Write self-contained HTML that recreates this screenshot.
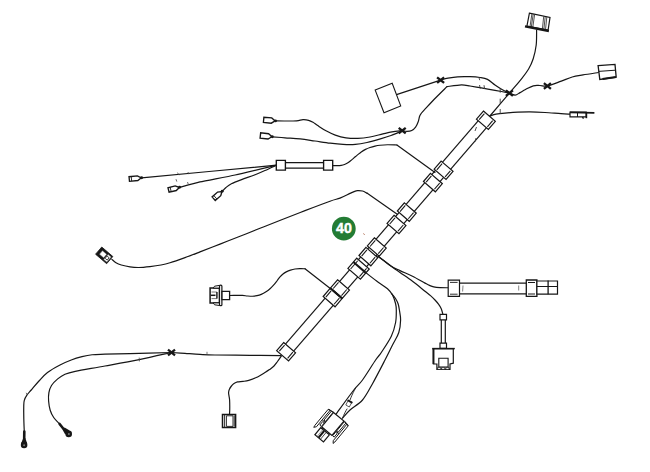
<!DOCTYPE html>
<html><head><meta charset="utf-8"><title>40</title>
<style>html,body{margin:0;padding:0;background:#fff;}body{width:650px;height:472px;overflow:hidden;}svg{display:block;}</style>
</head><body>
<svg width="650" height="472" viewBox="0 0 650 472">
<rect width="650" height="472" fill="#fff"/>
<path d="M536.60 30.00 C536.53 32.50 536.77 40.22 536.20 45.00 C535.63 49.78 534.47 54.70 533.20 58.70 C531.93 62.70 530.55 65.65 528.60 69.00 C526.65 72.35 524.70 74.78 521.50 78.80 C518.30 82.82 514.73 86.82 509.40 93.10 C504.07 99.38 492.82 112.60 489.50 116.50" fill="none" stroke="#161616" stroke-width="1.2" stroke-linecap="round" stroke-linejoin="round"/>
<path d="M509.40 93.10 C510.37 93.43 513.43 95.18 515.20 95.10 C516.97 95.02 518.28 93.53 520.00 92.60 C521.72 91.67 523.28 90.63 525.50 89.50 C527.72 88.37 530.88 86.47 533.30 85.80 C535.72 85.13 537.65 85.47 540.00 85.50 C542.35 85.53 543.85 86.73 547.40 86.00 C550.95 85.27 557.17 82.60 561.30 81.10 C565.43 79.60 568.58 78.03 572.20 77.00 C575.82 75.97 578.65 75.65 583.00 74.90 C587.35 74.15 595.75 72.90 598.30 72.50" fill="none" stroke="#161616" stroke-width="1.2" stroke-linecap="round" stroke-linejoin="round"/>
<path d="M490.00 116.00 C491.00 115.70 493.50 114.68 496.00 114.20 C498.50 113.72 501.33 113.43 505.00 113.10 C508.67 112.77 513.83 112.40 518.00 112.20 C522.17 112.00 525.50 111.85 530.00 111.90 C534.50 111.95 539.83 112.20 545.00 112.50 C550.17 112.80 556.83 113.43 561.00 113.70 C565.17 113.97 568.50 114.03 570.00 114.10" fill="none" stroke="#161616" stroke-width="1.2" stroke-linecap="round" stroke-linejoin="round"/>
<path d="M396.50 94.60 C403.85 92.18 433.25 82.52 440.60 80.10" fill="none" stroke="#161616" stroke-width="1.2" stroke-linecap="round" stroke-linejoin="round"/>
<path d="M440.60 80.10 C441.83 79.78 445.15 78.75 448.00 78.20 C450.85 77.65 454.03 77.05 457.70 76.80 C461.37 76.55 466.28 76.58 470.00 76.70 C473.72 76.82 477.08 77.05 480.00 77.50 C482.92 77.95 485.00 78.15 487.50 79.40 C490.00 80.65 492.58 83.32 495.00 85.00 C497.42 86.68 499.60 88.15 502.00 89.50 C504.40 90.85 508.17 92.50 509.40 93.10" fill="none" stroke="#161616" stroke-width="1.2" stroke-linecap="round" stroke-linejoin="round"/>
<path d="M509.40 93.10 C507.48 92.73 498.92 91.02 495.00 90.30 C491.08 89.58 483.33 88.27 480.00 87.70 C476.67 87.13 472.47 86.39 470.00 86.00 C467.53 85.61 464.57 84.72 461.50 84.80 C458.43 84.88 448.93 86.36 447.00 86.60" fill="none" stroke="#161616" stroke-width="1.2" stroke-linecap="round" stroke-linejoin="round"/>
<path d="M447.00 86.60 C445.17 88.42 439.63 93.78 436.00 97.50 C432.37 101.22 427.62 106.32 425.20 108.90 C422.78 111.48 422.42 111.82 421.50 113.00 C420.58 114.18 420.27 114.50 419.70 116.00 C419.13 117.50 418.78 120.15 418.10 122.00 C417.42 123.85 416.66 125.68 415.60 127.10 C414.54 128.52 413.18 129.80 411.75 130.50 C410.32 131.20 408.59 131.28 407.00 131.30 C405.41 131.32 403.00 130.72 402.20 130.60" fill="none" stroke="#161616" stroke-width="1.2" stroke-linecap="round" stroke-linejoin="round"/>
<path d="M402.00 130.60 C400.33 130.82 395.18 131.35 392.00 131.90 C388.82 132.45 386.57 133.05 382.90 133.90 C379.23 134.75 374.18 136.25 370.00 137.00 C365.82 137.75 361.80 138.27 357.80 138.40 C353.80 138.53 349.75 138.35 346.00 137.80 C342.25 137.25 338.63 136.27 335.30 135.10 C331.97 133.93 328.93 132.38 326.00 130.80 C323.07 129.22 319.87 127.02 317.70 125.60 C315.53 124.18 314.52 123.18 313.00 122.30 C311.48 121.42 310.27 120.73 308.60 120.30 C306.93 119.87 305.00 119.62 303.00 119.70 C301.00 119.78 299.60 120.58 296.60 120.80 C293.60 121.02 288.52 120.98 285.00 121.00 C281.48 121.02 277.08 120.92 275.50 120.90" fill="none" stroke="#161616" stroke-width="1.2" stroke-linecap="round" stroke-linejoin="round"/>
<path d="M402.00 131.00 C400.17 131.75 394.60 134.18 391.00 135.50 C387.40 136.82 384.40 137.73 380.40 138.90 C376.40 140.07 371.18 141.58 367.00 142.50 C362.82 143.42 359.30 144.08 355.30 144.40 C351.30 144.72 347.18 144.60 343.00 144.40 C338.82 144.20 334.87 143.77 330.20 143.20 C325.53 142.63 320.00 141.72 315.00 141.00 C310.00 140.28 305.20 139.43 300.20 138.90 C295.20 138.37 289.65 138.15 285.00 137.80 C280.35 137.45 274.42 136.97 272.30 136.80" fill="none" stroke="#161616" stroke-width="1.2" stroke-linecap="round" stroke-linejoin="round"/>
<path d="M332.70 165.60 C333.42 165.60 335.57 165.65 337.00 165.60 C338.43 165.55 340.00 165.48 341.25 165.30 C342.50 165.12 343.46 164.87 344.50 164.50 C345.54 164.13 346.48 163.72 347.50 163.10 C348.52 162.48 349.56 161.63 350.60 160.80 C351.64 159.97 352.60 159.08 353.75 158.10 C354.90 157.12 356.25 155.93 357.50 154.90 C358.75 153.87 359.92 152.82 361.25 151.90 C362.58 150.98 364.04 150.13 365.50 149.40 C366.96 148.67 368.42 148.05 370.00 147.50 C371.58 146.95 373.33 146.47 375.00 146.10 C376.67 145.72 377.92 145.47 380.00 145.25 C382.08 145.03 384.68 144.79 387.50 144.75 C390.32 144.71 395.33 144.96 396.90 145.00" fill="none" stroke="#161616" stroke-width="1.2" stroke-linecap="round" stroke-linejoin="round"/>
<path d="M396.90 145.00 C403.25 149.57 428.65 167.83 435.00 172.40" fill="none" stroke="#161616" stroke-width="1.2" stroke-linecap="round" stroke-linejoin="round"/>
<path d="M276.50 165.20 C254.02 167.30 164.08 175.70 141.60 177.80" fill="none" stroke="#161616" stroke-width="1.2" stroke-linecap="round" stroke-linejoin="round"/>
<path d="M276.50 165.20 C272.36 166.18 242.75 173.33 235.10 175.00 C227.45 176.67 205.55 180.67 200.00 181.90 C194.45 183.13 181.64 186.76 179.60 187.30" fill="none" stroke="#161616" stroke-width="1.2" stroke-linecap="round" stroke-linejoin="round"/>
<path d="M276.50 165.20 C274.58 166.08 268.67 168.87 265.00 170.50 C261.33 172.13 258.40 173.48 254.50 175.00 C250.60 176.52 245.45 178.13 241.60 179.60 C237.75 181.07 234.00 182.48 231.40 183.80 C228.80 185.12 227.53 186.25 226.00 187.50 C224.47 188.75 222.83 190.67 222.20 191.30" fill="none" stroke="#161616" stroke-width="1.2" stroke-linecap="round" stroke-linejoin="round"/>
<path d="M111.90 259.40 C112.58 259.97 114.43 261.87 116.00 262.80 C117.57 263.73 118.97 264.32 121.30 265.00 C123.63 265.68 127.08 266.48 130.00 266.90 C132.92 267.32 135.47 267.55 138.80 267.50 C142.13 267.45 146.30 267.02 150.00 266.60 C153.70 266.18 157.67 265.63 161.00 265.00 C164.33 264.37 166.00 264.03 170.00 262.80 C174.00 261.57 180.00 259.42 185.00 257.60 C190.00 255.78 194.17 254.15 200.00 251.90 C205.83 249.65 213.33 246.71 220.00 244.10 C226.67 241.49 233.33 238.88 240.00 236.25 C246.67 233.62 253.17 231.01 260.00 228.30 C266.83 225.59 273.50 222.95 281.00 220.00 C288.50 217.05 296.83 213.73 305.00 210.60 C313.17 207.47 324.17 203.28 330.00 201.20 C335.83 199.12 336.67 199.40 340.00 198.10 C343.33 196.80 347.67 194.48 350.00 193.40 C352.33 192.32 352.75 192.07 354.00 191.60 C355.25 191.13 356.08 190.70 357.50 190.60 C358.92 190.50 360.93 190.58 362.50 191.00 C364.07 191.42 366.17 192.75 366.90 193.10" fill="none" stroke="#161616" stroke-width="1.2" stroke-linecap="round" stroke-linejoin="round"/>
<path d="M366.90 193.10 C372.02 196.65 392.48 210.85 397.60 214.40" fill="none" stroke="#161616" stroke-width="1.2" stroke-linecap="round" stroke-linejoin="round"/>
<path d="M229.60 295.50 C230.67 295.48 233.85 295.42 236.00 295.40 C238.15 295.38 240.58 295.30 242.50 295.40 C244.42 295.50 245.83 295.86 247.50 296.00 C249.17 296.14 250.92 296.30 252.50 296.25 C254.08 296.20 255.54 296.01 257.00 295.70 C258.46 295.39 259.75 295.05 261.25 294.40 C262.75 293.75 264.54 292.74 266.00 291.80 C267.46 290.86 268.78 289.82 270.00 288.75 C271.22 287.68 272.26 286.54 273.30 285.40 C274.34 284.26 275.43 282.93 276.25 281.90 C277.07 280.87 277.57 280.03 278.20 279.20 C278.82 278.37 279.20 277.77 280.00 276.90 C280.80 276.03 281.96 274.83 283.00 274.00 C284.04 273.17 285.00 272.55 286.25 271.90 C287.50 271.25 289.04 270.58 290.50 270.10 C291.96 269.62 293.42 269.23 295.00 269.00 C296.58 268.77 298.33 268.74 300.00 268.70 C301.67 268.66 304.17 268.74 305.00 268.75" fill="none" stroke="#161616" stroke-width="1.2" stroke-linecap="round" stroke-linejoin="round"/>
<path d="M305.00 268.75 C309.27 272.07 326.33 285.38 330.60 288.70" fill="none" stroke="#161616" stroke-width="1.2" stroke-linecap="round" stroke-linejoin="round"/>
<path d="M281.00 355.70 C275.83 355.63 261.00 355.42 250.00 355.30 C239.00 355.18 223.33 355.15 215.00 355.00 C206.67 354.85 205.00 354.67 200.00 354.40 C195.00 354.13 189.75 353.72 185.00 353.40 C180.25 353.08 173.75 352.65 171.50 352.50" fill="none" stroke="#161616" stroke-width="1.2" stroke-linecap="round" stroke-linejoin="round"/>
<path d="M171.50 352.50 C164.58 352.68 141.08 353.32 130.00 353.60 C118.92 353.88 111.32 354.01 105.00 354.20 C98.68 354.39 95.93 354.33 92.10 354.75 C88.27 355.17 85.47 355.82 82.00 356.70 C78.53 357.57 74.92 358.62 71.25 360.00 C67.58 361.38 63.96 362.92 60.00 365.00 C56.04 367.08 51.04 369.79 47.50 372.50 C43.96 375.21 41.46 378.33 38.75 381.25 C36.04 384.17 33.23 387.68 31.25 390.00 C29.27 392.32 28.06 393.48 26.90 395.20 C25.74 396.92 24.82 398.50 24.30 400.30 C23.78 402.10 23.83 402.93 23.75 406.00 C23.67 409.07 23.71 414.42 23.80 418.75 C23.89 423.08 24.22 429.79 24.30 432.00" fill="none" stroke="#161616" stroke-width="1.2" stroke-linecap="round" stroke-linejoin="round"/>
<path d="M171.50 352.50 C166.12 353.68 150.28 357.35 139.20 359.60 C128.12 361.85 115.67 364.05 105.00 366.00 C94.33 367.95 81.87 369.93 75.20 371.30 C68.53 372.67 67.92 372.93 65.00 374.20 C62.08 375.47 59.95 377.02 57.70 378.90 C55.45 380.78 52.97 383.20 51.50 385.50 C50.03 387.80 49.38 390.12 48.90 392.70 C48.42 395.28 48.38 398.08 48.60 401.00 C48.82 403.92 49.35 407.45 50.20 410.20 C51.05 412.95 52.17 415.25 53.70 417.50 C55.23 419.75 58.45 422.67 59.40 423.70" fill="none" stroke="#161616" stroke-width="1.2" stroke-linecap="round" stroke-linejoin="round"/>
<path d="M281.30 356.20 C280.67 357.08 278.76 359.82 277.50 361.50 C276.24 363.18 275.08 364.90 273.75 366.25 C272.42 367.60 270.96 368.56 269.50 369.60 C268.04 370.64 267.21 371.18 265.00 372.50 C262.79 373.82 258.96 376.18 256.25 377.50 C253.54 378.82 250.96 379.75 248.75 380.40 C246.54 381.05 244.88 381.15 243.00 381.40 C241.12 381.65 239.00 381.53 237.50 381.90 C236.00 382.27 235.04 382.88 234.00 383.60 C232.96 384.33 232.02 385.30 231.25 386.25 C230.48 387.20 229.84 388.26 229.40 389.30 C228.96 390.34 228.67 391.38 228.60 392.50 C228.53 393.62 228.83 394.75 229.00 396.00 C229.17 397.25 229.47 397.88 229.60 400.00 C229.72 402.12 229.77 406.35 229.75 408.75 C229.73 411.15 229.54 413.46 229.50 414.40" fill="none" stroke="#161616" stroke-width="1.2" stroke-linecap="round" stroke-linejoin="round"/>
<path d="M378.00 256.20 C379.00 256.97 381.79 259.12 384.00 260.80 C386.21 262.48 388.58 264.62 391.25 266.25 C393.92 267.88 396.46 268.93 400.00 270.60 C403.54 272.27 408.33 274.17 412.50 276.25 C416.67 278.33 422.17 281.58 425.00 283.10 C427.83 284.62 428.04 284.77 429.50 285.40 C430.96 286.03 432.00 286.53 433.75 286.90 C435.50 287.27 437.59 287.46 440.00 287.60 C442.41 287.74 446.83 287.73 448.20 287.75" fill="none" stroke="#161616" stroke-width="1.2" stroke-linecap="round" stroke-linejoin="round"/>
<path d="M378.00 256.20 C379.00 256.97 381.79 259.12 384.00 260.80 C386.21 262.48 388.58 264.30 391.25 266.25 C393.92 268.20 396.46 270.00 400.00 272.50 C403.54 275.00 408.33 278.12 412.50 281.25 C416.67 284.38 422.00 288.86 425.00 291.25 C428.00 293.64 428.83 294.14 430.50 295.60 C432.17 297.06 433.67 298.57 435.00 300.00 C436.33 301.43 437.46 302.74 438.50 304.20 C439.54 305.66 440.52 307.05 441.25 308.75 C441.98 310.45 442.62 313.46 442.90 314.40" fill="none" stroke="#161616" stroke-width="1.2" stroke-linecap="round" stroke-linejoin="round"/>
<path d="M365.60 272.50 C367.38 273.88 372.65 278.09 376.30 280.80 C379.95 283.51 384.80 286.38 387.50 288.75 C390.20 291.12 391.15 292.50 392.50 295.00 C393.85 297.50 394.97 301.25 395.60 303.75 C396.23 306.25 396.30 306.88 396.30 310.00 C396.30 313.12 396.43 318.12 395.60 322.50 C394.77 326.88 393.68 331.30 391.30 336.30 C388.92 341.30 383.92 348.55 381.30 352.50 C378.68 356.45 378.73 355.42 375.60 360.00 C372.47 364.58 366.13 375.00 362.50 380.00 C358.87 385.00 358.17 384.38 353.80 390.00 C349.43 395.62 339.22 409.75 336.30 413.70" fill="none" stroke="#161616" stroke-width="1.2" stroke-linecap="round" stroke-linejoin="round"/>
<path d="M391.50 293.50 C392.17 294.33 394.40 296.79 395.50 298.50 C396.60 300.21 397.45 301.83 398.10 303.75 C398.75 305.67 398.98 307.29 399.40 310.00 C399.82 312.71 400.70 316.25 400.60 320.00 C400.50 323.75 400.15 328.33 398.80 332.50 C397.45 336.67 394.80 340.42 392.50 345.00 C390.20 349.58 388.33 353.55 385.00 360.00 C381.67 366.45 376.25 377.03 372.50 383.70 C368.75 390.37 366.25 395.62 362.50 400.00 C358.75 404.38 353.33 406.98 350.00 410.00 C346.67 413.02 343.75 416.75 342.50 418.10" fill="none" stroke="#161616" stroke-width="1.2" stroke-linecap="round" stroke-linejoin="round"/>
<path d="M355.50 388.20 C355.00 389.17 353.42 392.03 352.50 394.00 C351.58 395.97 350.42 399.00 350.00 400.00" fill="none" stroke="#161616" stroke-width="0.9" stroke-linecap="round" stroke-linejoin="round"/>
<path d="M347.00 409.00 C346.67 409.58 345.75 410.98 345.00 412.50 C344.25 414.02 342.92 417.17 342.50 418.10" fill="none" stroke="#161616" stroke-width="0.9" stroke-linecap="round" stroke-linejoin="round"/>
<path d="M348.30 400.20 L351.90 402.20 L349.30 407.00 L345.80 405.00 Z" fill="#fff" stroke="#161616" stroke-width="0.7" stroke-linejoin="miter"/>
<line x1="347.60" y1="400.30" x2="352.40" y2="402.90" stroke="#161616" stroke-width="1.8" stroke-linecap="butt"/>
<line x1="481.81" y1="116.67" x2="282.01" y2="348.17" stroke="#161616" stroke-width="1.2" stroke-linecap="butt"/>
<line x1="489.99" y1="123.73" x2="290.19" y2="355.23" stroke="#161616" stroke-width="1.2" stroke-linecap="butt"/>
<path d="M483.45 111.02 L495.34 121.28 L488.35 129.38 L476.46 119.12 Z" fill="#fff" stroke="#161616" stroke-width="1.2" stroke-linejoin="miter"/>
<line x1="484.42" y1="113.57" x2="479.13" y2="119.70" stroke="#161616" stroke-width="1.08" stroke-linecap="butt"/>
<line x1="492.67" y1="120.70" x2="487.38" y2="126.83" stroke="#161616" stroke-width="1.08" stroke-linecap="butt"/>
<path d="M441.15 161.12 L453.04 171.38 L446.05 179.48 L434.16 169.22 Z" fill="#fff" stroke="#161616" stroke-width="1.2" stroke-linejoin="miter"/>
<line x1="442.12" y1="163.67" x2="436.83" y2="169.80" stroke="#161616" stroke-width="1.08" stroke-linecap="butt"/>
<line x1="450.37" y1="170.80" x2="445.08" y2="176.93" stroke="#161616" stroke-width="1.08" stroke-linecap="butt"/>
<path d="M430.45 173.42 L442.34 183.68 L435.35 191.78 L423.46 181.52 Z" fill="#fff" stroke="#161616" stroke-width="1.2" stroke-linejoin="miter"/>
<line x1="431.42" y1="175.97" x2="426.13" y2="182.10" stroke="#161616" stroke-width="1.08" stroke-linecap="butt"/>
<line x1="439.67" y1="183.10" x2="434.38" y2="189.23" stroke="#161616" stroke-width="1.08" stroke-linecap="butt"/>
<path d="M404.35 202.92 L416.24 213.18 L409.25 221.28 L397.36 211.02 Z" fill="#fff" stroke="#161616" stroke-width="1.2" stroke-linejoin="miter"/>
<line x1="405.32" y1="205.47" x2="400.03" y2="211.60" stroke="#161616" stroke-width="1.08" stroke-linecap="butt"/>
<line x1="413.57" y1="212.60" x2="408.28" y2="218.73" stroke="#161616" stroke-width="1.08" stroke-linecap="butt"/>
<path d="M394.05 215.32 L405.94 225.58 L398.95 233.68 L387.06 223.42 Z" fill="#fff" stroke="#161616" stroke-width="1.2" stroke-linejoin="miter"/>
<line x1="395.02" y1="217.87" x2="389.73" y2="224.00" stroke="#161616" stroke-width="1.08" stroke-linecap="butt"/>
<line x1="403.27" y1="225.00" x2="397.98" y2="231.13" stroke="#161616" stroke-width="1.08" stroke-linecap="butt"/>
<path d="M374.35 237.82 L386.24 248.08 L379.25 256.18 L367.36 245.92 Z" fill="#fff" stroke="#161616" stroke-width="1.2" stroke-linejoin="miter"/>
<line x1="375.32" y1="240.37" x2="370.03" y2="246.50" stroke="#161616" stroke-width="1.08" stroke-linecap="butt"/>
<line x1="383.57" y1="247.50" x2="378.28" y2="253.63" stroke="#161616" stroke-width="1.08" stroke-linecap="butt"/>
<path d="M365.95 247.42 L377.84 257.68 L370.85 265.78 L358.96 255.52 Z" fill="#fff" stroke="#161616" stroke-width="1.2" stroke-linejoin="miter"/>
<line x1="366.92" y1="249.97" x2="361.63" y2="256.10" stroke="#161616" stroke-width="1.08" stroke-linecap="butt"/>
<line x1="375.17" y1="257.10" x2="369.88" y2="263.23" stroke="#161616" stroke-width="1.08" stroke-linecap="butt"/>
<path d="M356.77 258.20 L369.26 268.98 L360.43 279.20 L347.94 268.42 Z" fill="#fff" stroke="#161616" stroke-width="1.2" stroke-linejoin="miter"/>
<line x1="357.73" y1="260.75" x2="350.61" y2="269.00" stroke="#161616" stroke-width="1.08" stroke-linecap="butt"/>
<line x1="366.59" y1="268.40" x2="359.47" y2="276.65" stroke="#161616" stroke-width="1.08" stroke-linecap="butt"/>
<line x1="353.40" y1="262.10" x2="365.89" y2="272.88" stroke="#161616" stroke-width="2.0" stroke-linecap="butt"/>
<path d="M337.55 279.82 L349.44 290.08 L342.45 298.18 L330.56 287.92 Z" fill="#fff" stroke="#161616" stroke-width="1.2" stroke-linejoin="miter"/>
<line x1="338.52" y1="282.37" x2="333.23" y2="288.50" stroke="#161616" stroke-width="1.08" stroke-linecap="butt"/>
<line x1="346.77" y1="289.50" x2="341.48" y2="295.63" stroke="#161616" stroke-width="1.08" stroke-linecap="butt"/>
<path d="M330.15 288.42 L342.04 298.68 L335.05 306.78 L323.16 296.52 Z" fill="#fff" stroke="#161616" stroke-width="1.2" stroke-linejoin="miter"/>
<line x1="331.12" y1="290.97" x2="325.83" y2="297.10" stroke="#161616" stroke-width="1.08" stroke-linecap="butt"/>
<line x1="339.37" y1="298.10" x2="334.08" y2="304.23" stroke="#161616" stroke-width="1.08" stroke-linecap="butt"/>
<line x1="330.36" y1="288.17" x2="342.24" y2="298.43" stroke="#161616" stroke-width="2.0" stroke-linecap="butt"/>
<path d="M283.65 342.52 L295.54 352.78 L288.55 360.88 L276.66 350.62 Z" fill="#fff" stroke="#161616" stroke-width="1.2" stroke-linejoin="miter"/>
<line x1="284.62" y1="345.07" x2="279.33" y2="351.20" stroke="#161616" stroke-width="1.08" stroke-linecap="butt"/>
<line x1="292.87" y1="352.20" x2="287.58" y2="358.33" stroke="#161616" stroke-width="1.08" stroke-linecap="butt"/>
<path d="M529.40 13.10 L550.00 17.50 L548.10 30.00 L526.90 26.20 Z" fill="#fff" stroke="#161616" stroke-width="1.2" stroke-linejoin="miter"/>
<line x1="525.00" y1="26.40" x2="548.90" y2="31.00" stroke="#161616" stroke-width="2.3" stroke-linecap="butt"/>
<line x1="531.90" y1="14.00" x2="530.00" y2="26.60" stroke="#161616" stroke-width="0.75" stroke-linecap="butt"/>
<line x1="533.20" y1="14.30" x2="531.30" y2="26.90" stroke="#161616" stroke-width="0.75" stroke-linecap="butt"/>
<line x1="534.60" y1="14.60" x2="532.80" y2="27.20" stroke="#161616" stroke-width="0.75" stroke-linecap="butt"/>
<line x1="543.70" y1="16.50" x2="542.40" y2="28.90" stroke="#161616" stroke-width="0.75" stroke-linecap="butt"/>
<line x1="545.20" y1="16.80" x2="543.90" y2="29.20" stroke="#161616" stroke-width="0.75" stroke-linecap="butt"/>
<line x1="546.80" y1="17.10" x2="545.50" y2="29.50" stroke="#161616" stroke-width="0.75" stroke-linecap="butt"/>
<path d="M598.10 65.60 L615.00 64.40 L616.20 77.20 L599.80 79.40 Z" fill="#fff" stroke="#161616" stroke-width="1.3" stroke-linejoin="miter"/>
<line x1="598.50" y1="71.40" x2="615.50" y2="70.20" stroke="#161616" stroke-width="1.0" stroke-linecap="butt"/>
<line x1="602.50" y1="79.00" x2="616.00" y2="77.00" stroke="#161616" stroke-width="2.2" stroke-linecap="butt"/>
<path d="M570.00 112.20 L586.20 112.20 L586.20 116.90 L570.00 116.90 Z" fill="#fff" stroke="#161616" stroke-width="1.2" stroke-linejoin="miter"/>
<line x1="570.00" y1="112.40" x2="594.40" y2="112.90" stroke="#161616" stroke-width="1.6" stroke-linecap="butt"/>
<line x1="577.50" y1="112.00" x2="577.50" y2="117.00" stroke="#161616" stroke-width="1.0" stroke-linecap="butt"/>
<line x1="586.40" y1="112.50" x2="586.40" y2="118.20" stroke="#161616" stroke-width="1.6" stroke-linecap="butt"/>
<line x1="582.50" y1="116.90" x2="583.50" y2="118.60" stroke="#161616" stroke-width="1.4" stroke-linecap="butt"/>
<path d="M375.20 90.10 L392.20 83.30 L400.70 105.90 L384.00 112.70 Z" fill="#fff" stroke="#161616" stroke-width="1.1" stroke-linejoin="miter"/>
<path d="M274.25 121.39 L271.28 123.19 L263.41 122.50 L263.88 117.22 L271.75 117.91 L274.36 120.20 Z" fill="#fff" stroke="#161616" stroke-width="1.35" stroke-linejoin="miter"/>
<circle cx="275.50" cy="120.90" r="1.45" fill="#161616"/>
<path d="M271.04 137.26 L268.03 139.00 L260.08 138.12 L260.66 132.85 L268.61 133.73 L271.17 136.07 Z" fill="#fff" stroke="#161616" stroke-width="1.35" stroke-linejoin="miter"/>
<circle cx="272.30" cy="136.80" r="1.45" fill="#161616"/>
<path d="M140.46 178.51 L137.84 180.48 L129.48 181.30 L129.03 176.72 L137.39 175.90 L140.35 177.32 Z" fill="#fff" stroke="#161616" stroke-width="1.35" stroke-linejoin="miter"/>
<circle cx="141.60" cy="177.80" r="1.45" fill="#161616"/>
<line x1="131.67" y1="181.08" x2="131.22" y2="176.51" stroke="#161616" stroke-width="0.9" stroke-linecap="butt"/>
<path d="M178.58 188.17 L176.27 190.53 L169.08 192.28 L167.97 187.72 L175.16 185.96 L178.29 187.00 Z" fill="#fff" stroke="#161616" stroke-width="1.35" stroke-linejoin="miter"/>
<circle cx="179.60" cy="187.30" r="1.45" fill="#161616"/>
<line x1="171.22" y1="191.76" x2="170.11" y2="187.20" stroke="#161616" stroke-width="0.9" stroke-linecap="butt"/>
<path d="M221.69 192.54 L220.76 195.74 L215.25 200.52 L212.10 196.90 L217.61 192.11 L220.90 191.63 Z" fill="#fff" stroke="#161616" stroke-width="1.35" stroke-linejoin="miter"/>
<circle cx="222.20" cy="191.30" r="1.45" fill="#161616"/>
<line x1="216.91" y1="199.08" x2="213.76" y2="195.46" stroke="#161616" stroke-width="0.9" stroke-linecap="butt"/>
<line x1="285.10" y1="162.70" x2="324.00" y2="162.70" stroke="#161616" stroke-width="1.2" stroke-linecap="butt"/>
<line x1="285.10" y1="168.20" x2="324.00" y2="168.20" stroke="#161616" stroke-width="1.2" stroke-linecap="butt"/>
<path d="M276.30 160.40 L285.40 160.40 L285.40 170.10 L276.30 170.10 Z" fill="#fff" stroke="#161616" stroke-width="1.35" stroke-linejoin="miter"/>
<path d="M323.60 160.40 L332.70 160.40 L332.70 170.10 L323.60 170.10 Z" fill="#fff" stroke="#161616" stroke-width="1.35" stroke-linejoin="miter"/>
<path d="M101.75 247.00 L112.84 256.50 L106.65 263.71 L95.57 254.21 Z" fill="#161616" stroke="#161616" stroke-width="0.8" stroke-linejoin="round"/>
<path d="M102.47 250.77 L106.87 254.55 L103.94 257.97 L99.54 254.19 Z" fill="#fff" stroke="#888" stroke-width="0.5" stroke-linejoin="miter"/>
<path d="M108.06 254.39 L111.10 256.99 L106.80 262.00 L103.77 259.40 Z" fill="#fff" stroke="#888" stroke-width="0.5" stroke-linejoin="miter"/>
<path d="M107.05 256.02 L109.10 257.78 L107.15 260.06 L105.10 258.30 Z" fill="#fff" stroke="#333" stroke-width="0.9" stroke-linejoin="miter"/>
<line x1="107.13" y1="254.25" x2="103.62" y2="258.35" stroke="#161616" stroke-width="0.9" stroke-linecap="butt"/>
<path d="M210.10 288.10 L219.50 288.10 L219.50 302.90 L210.10 302.90 Z" fill="#fff" stroke="#161616" stroke-width="1.5" stroke-linejoin="miter"/>
<path d="M214.60 286.20 L219.50 285.40 L219.50 288.10 L213.20 288.10 Z" fill="#fff" stroke="#161616" stroke-width="1.0" stroke-linejoin="miter"/>
<path d="M213.20 302.90 L219.50 302.90 L219.50 305.50 L214.60 304.80 Z" fill="#fff" stroke="#161616" stroke-width="1.0" stroke-linejoin="miter"/>
<rect x="219.5" y="285.2" width="2.4" height="20.5" rx="1.0" fill="#fff" stroke="#161616" stroke-width="1.2"/>
<path d="M222.00 291.30 L229.60 291.30 L229.60 299.60 L222.00 299.60 Z" fill="#fff" stroke="#161616" stroke-width="1.3" stroke-linejoin="miter"/>
<path d="M211.50 292.00 L216.90 292.00 L216.90 298.60 L211.50 298.60" fill="none" stroke="#555" stroke-width="0.8" stroke-linejoin="miter"/>
<line x1="216.90" y1="292.00" x2="216.90" y2="298.60" stroke="#161616" stroke-width="1.2" stroke-linecap="butt"/>
<line x1="210.80" y1="295.30" x2="215.50" y2="295.30" stroke="#161616" stroke-width="1.5" stroke-linecap="butt"/>
<path d="M222.50 414.40 L235.60 414.40 L235.60 427.50 L222.50 427.50 Z" fill="#fff" stroke="#161616" stroke-width="1.5" stroke-linejoin="miter"/>
<line x1="224.60" y1="415.00" x2="224.60" y2="427.00" stroke="#161616" stroke-width="0.9" stroke-linecap="butt"/>
<path d="M226.40 415.80 L233.00 415.80 L233.00 426.40 L226.40 426.40 Z" fill="#fff" stroke="#161616" stroke-width="0.9" stroke-linejoin="miter"/>
<line x1="234.30" y1="415.50" x2="234.30" y2="426.50" stroke="#161616" stroke-width="0.8" stroke-linecap="butt"/>
<line x1="24.30" y1="431.50" x2="24.20" y2="438.50" stroke="#161616" stroke-width="2.6" stroke-linecap="round"/>
<path d="M23.2 438 L21.3 443 L27.0 443 L25.3 438 Z" fill="#161616"/>
<circle cx="24.1" cy="444.9" r="3.3" fill="#161616"/>
<circle cx="24.1" cy="445.2" r="1.0" fill="#777"/>
<line x1="59.60" y1="424.00" x2="63.60" y2="429.00" stroke="#161616" stroke-width="2.6" stroke-linecap="round"/>
<path d="M62.6 429.8 L65.2 434.6 L69.6 430.6 L64.6 427.6 Z" fill="#161616"/>
<circle cx="68.7" cy="433.9" r="3.3" fill="#161616"/>
<circle cx="68.9" cy="434.1" r="1.0" fill="#777"/>
<line x1="459.50" y1="283.10" x2="526.30" y2="283.10" stroke="#161616" stroke-width="1.2" stroke-linecap="butt"/>
<line x1="459.50" y1="293.80" x2="526.30" y2="293.80" stroke="#161616" stroke-width="1.2" stroke-linecap="butt"/>
<path d="M448.20 280.10 L459.50 280.10 L459.50 296.40 L448.20 296.40 Z" fill="#fff" stroke="#161616" stroke-width="1.2" stroke-linejoin="miter"/>
<line x1="450.00" y1="282.40" x2="457.60" y2="282.40" stroke="#161616" stroke-width="0.9" stroke-linecap="butt"/>
<line x1="450.00" y1="294.20" x2="457.60" y2="294.20" stroke="#161616" stroke-width="0.9" stroke-linecap="butt"/>
<path d="M526.30 280.00 L536.90 280.00 L536.90 296.30 L526.30 296.30 Z" fill="#fff" stroke="#161616" stroke-width="1.3" stroke-linejoin="miter"/>
<line x1="528.00" y1="282.50" x2="535.00" y2="282.50" stroke="#161616" stroke-width="1.0" stroke-linecap="butt"/>
<line x1="528.00" y1="294.00" x2="535.00" y2="294.00" stroke="#161616" stroke-width="1.0" stroke-linecap="butt"/>
<line x1="463.00" y1="285.50" x2="462.60" y2="291.50" stroke="#666" stroke-width="0.8" stroke-linecap="butt"/>
<line x1="518.70" y1="285.50" x2="518.70" y2="290.50" stroke="#777" stroke-width="0.9" stroke-linecap="butt"/>
<path d="M536.90 281.00 L557.50 281.00 L557.50 294.20 L536.90 294.20 Z" fill="#fff" stroke="#161616" stroke-width="1.2" stroke-linejoin="miter"/>
<line x1="536.90" y1="286.50" x2="557.50" y2="286.50" stroke="#161616" stroke-width="1.0" stroke-linecap="butt"/>
<line x1="548.10" y1="280.40" x2="548.10" y2="294.20" stroke="#161616" stroke-width="1.3" stroke-linecap="butt"/>
<line x1="441.30" y1="319.70" x2="441.30" y2="343.10" stroke="#161616" stroke-width="1.2" stroke-linecap="butt"/>
<line x1="445.30" y1="319.70" x2="445.30" y2="343.10" stroke="#161616" stroke-width="1.2" stroke-linecap="butt"/>
<path d="M440.00 314.40 L446.50 314.40 L446.50 319.80 L440.00 319.80 Z" fill="#fff" stroke="#161616" stroke-width="1.2" stroke-linejoin="miter"/>
<path d="M440.00 343.10 L446.50 343.10 L446.50 348.30 L440.00 348.30 Z" fill="#fff" stroke="#161616" stroke-width="1.2" stroke-linejoin="miter"/>
<path d="M433.40 348.60 L453.30 348.60 L453.30 363.20 L450.00 364.00 L450.00 369.40 L436.90 369.40 L436.90 364.00 L433.40 364.00 Z" fill="#fff" stroke="#161616" stroke-width="1.2" stroke-linejoin="miter"/>
<line x1="432.20" y1="348.60" x2="454.80" y2="348.60" stroke="#161616" stroke-width="1.5" stroke-linecap="butt"/>
<line x1="433.50" y1="348.60" x2="433.50" y2="364.00" stroke="#161616" stroke-width="1.9" stroke-linecap="butt"/>
<path d="M438.80 358.20 L448.10 358.20 L448.10 367.00 L438.80 367.00 Z" fill="#fff" stroke="#161616" stroke-width="1.1" stroke-linejoin="miter"/>
<path d="M437.60 367.40 L440.80 367.40 L440.80 369.40 L437.60 369.40 Z" fill="#fff" stroke="#161616" stroke-width="0.8" stroke-linejoin="miter"/>
<path d="M441.60 367.40 L444.80 367.40 L444.80 369.40 L441.60 369.40 Z" fill="#fff" stroke="#161616" stroke-width="0.8" stroke-linejoin="miter"/>
<path d="M445.80 367.40 L449.00 367.40 L449.00 369.40 L445.80 369.40 Z" fill="#fff" stroke="#161616" stroke-width="0.8" stroke-linejoin="miter"/>
<path d="M333.53 412.44 L343.92 421.06 L331.97 435.45 L321.59 426.82 Z" fill="#fff" stroke="#161616" stroke-width="1.2" stroke-linejoin="miter"/>
<path d="M328.20 409.31 L330.20 410.19 L316.47 426.73 L313.75 427.34 L314.85 425.39 Z" fill="#fff" stroke="#161616" stroke-width="1.0" stroke-linejoin="miter"/>
<path d="M331.42 411.07 L333.03 412.41 L325.62 421.34 L324.01 420.00 Z" fill="#fff" stroke="#161616" stroke-width="1.0" stroke-linejoin="miter"/>
<path d="M322.73 421.53 L324.35 422.88 L321.41 426.42 L319.79 425.07 Z" fill="#fff" stroke="#161616" stroke-width="1.0" stroke-linejoin="miter"/>
<line x1="328.33" y1="409.16" x2="333.29" y2="412.10" stroke="#161616" stroke-width="1.1" stroke-linecap="butt"/>
<line x1="322.21" y1="419.81" x2="325.21" y2="422.30" stroke="#161616" stroke-width="1.0" stroke-linecap="butt"/>
<path d="M348.20 425.92 L346.97 424.11 L333.24 440.66 L333.14 443.44 L334.85 442.00 Z" fill="#fff" stroke="#161616" stroke-width="1.0" stroke-linejoin="miter"/>
<path d="M345.88 423.08 L344.27 421.74 L336.86 430.66 L338.47 432.00 Z" fill="#fff" stroke="#161616" stroke-width="1.0" stroke-linejoin="miter"/>
<path d="M337.19 433.54 L335.58 432.20 L332.64 435.74 L334.26 437.08 Z" fill="#fff" stroke="#161616" stroke-width="1.0" stroke-linejoin="miter"/>
<line x1="348.33" y1="425.76" x2="344.52" y2="421.43" stroke="#161616" stroke-width="1.1" stroke-linecap="butt"/>
<line x1="338.99" y1="433.73" x2="335.99" y2="431.24" stroke="#161616" stroke-width="1.0" stroke-linecap="butt"/>
<path d="M320.74 427.68 L329.36 434.84 L323.48 441.92 L314.87 434.76 Z" fill="#fff" stroke="#161616" stroke-width="1.2" stroke-linejoin="miter"/>
<line x1="324.10" y1="430.99" x2="318.61" y2="437.61" stroke="#161616" stroke-width="2.0" stroke-linecap="butt"/>
<line x1="326.03" y1="432.59" x2="320.53" y2="439.21" stroke="#161616" stroke-width="0.8" stroke-linecap="butt"/>
<line x1="322.64" y1="429.78" x2="317.15" y2="436.40" stroke="#666" stroke-width="0.7" stroke-linecap="butt"/>
<line x1="323.05" y1="428.04" x2="322.28" y2="428.96" stroke="#161616" stroke-width="1.0" stroke-linecap="butt"/>
<line x1="328.90" y1="432.89" x2="328.13" y2="433.82" stroke="#161616" stroke-width="1.0" stroke-linecap="butt"/>
<line x1="505.90" y1="90.30" x2="512.90" y2="95.90" stroke="#161616" stroke-width="2.3" stroke-linecap="butt"/>
<line x1="505.90" y1="95.90" x2="512.90" y2="90.30" stroke="#161616" stroke-width="2.3" stroke-linecap="butt"/>
<line x1="543.90" y1="83.20" x2="550.90" y2="88.80" stroke="#161616" stroke-width="2.3" stroke-linecap="butt"/>
<line x1="543.90" y1="88.80" x2="550.90" y2="83.20" stroke="#161616" stroke-width="2.3" stroke-linecap="butt"/>
<line x1="437.10" y1="77.30" x2="444.10" y2="82.90" stroke="#161616" stroke-width="2.3" stroke-linecap="butt"/>
<line x1="437.10" y1="82.90" x2="444.10" y2="77.30" stroke="#161616" stroke-width="2.3" stroke-linecap="butt"/>
<line x1="398.70" y1="127.80" x2="405.70" y2="133.40" stroke="#161616" stroke-width="2.3" stroke-linecap="butt"/>
<line x1="398.70" y1="133.40" x2="405.70" y2="127.80" stroke="#161616" stroke-width="2.3" stroke-linecap="butt"/>
<line x1="168.00" y1="349.70" x2="175.00" y2="355.30" stroke="#161616" stroke-width="2.3" stroke-linecap="butt"/>
<line x1="168.00" y1="355.30" x2="175.00" y2="349.70" stroke="#161616" stroke-width="2.3" stroke-linecap="butt"/>
<line x1="478.80" y1="77.20" x2="479.80" y2="80.20" stroke="#3a3a3a" stroke-width="0.9" stroke-linecap="butt"/>
<line x1="479.50" y1="85.00" x2="480.30" y2="88.70" stroke="#3a3a3a" stroke-width="0.9" stroke-linecap="butt"/>
<line x1="484.00" y1="85.20" x2="484.60" y2="88.90" stroke="#3a3a3a" stroke-width="0.9" stroke-linecap="butt"/>
<line x1="500.20" y1="88.50" x2="500.20" y2="92.70" stroke="#3a3a3a" stroke-width="0.9" stroke-linecap="butt"/>
<line x1="500.20" y1="98.70" x2="500.20" y2="103.50" stroke="#3a3a3a" stroke-width="0.9" stroke-linecap="butt"/>
<line x1="500.20" y1="109.00" x2="500.20" y2="114.00" stroke="#3a3a3a" stroke-width="0.9" stroke-linecap="butt"/>
<line x1="476.50" y1="127.00" x2="475.00" y2="131.00" stroke="#3a3a3a" stroke-width="0.9" stroke-linecap="butt"/>
<line x1="476.00" y1="138.00" x2="475.20" y2="141.50" stroke="#3a3a3a" stroke-width="0.9" stroke-linecap="butt"/>
<line x1="363.00" y1="233.40" x2="365.00" y2="234.80" stroke="#b9826a" stroke-width="0.8" stroke-linecap="butt"/>
<line x1="177.50" y1="172.60" x2="179.00" y2="175.20" stroke="#444" stroke-width="0.8" stroke-linecap="butt"/>
<line x1="188.00" y1="172.00" x2="188.60" y2="174.20" stroke="#444" stroke-width="0.8" stroke-linecap="butt"/>
<line x1="176.00" y1="179.20" x2="176.80" y2="181.60" stroke="#444" stroke-width="0.8" stroke-linecap="butt"/>
<line x1="187.50" y1="182.00" x2="188.20" y2="184.00" stroke="#444" stroke-width="0.8" stroke-linecap="butt"/>
<line x1="26.20" y1="392.80" x2="27.40" y2="395.00" stroke="#444" stroke-width="0.8" stroke-linecap="butt"/>
<line x1="139.20" y1="357.60" x2="139.40" y2="361.40" stroke="#444" stroke-width="0.8" stroke-linecap="butt"/>
<line x1="207.00" y1="351.80" x2="207.00" y2="354.20" stroke="#555" stroke-width="0.8" stroke-linecap="butt"/>
<circle cx="343.8" cy="228.7" r="11.9" fill="#237c34"/>
<text x="343.9" y="233.1" text-anchor="middle" font-family="Liberation Sans, Arial, sans-serif" font-weight="700" font-size="14.2" fill="#fff" stroke="#fff" stroke-width="0.45">40</text>
</svg>
</body></html>
